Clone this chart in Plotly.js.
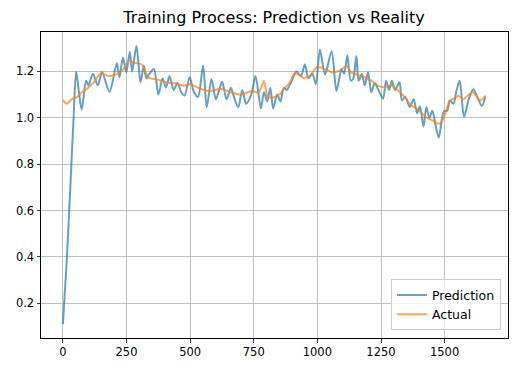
<!DOCTYPE html>
<html>
<head>
<meta charset="utf-8">
<script src="https://cdn.plot.ly/plotly-3.0.1.min.js"></script>
<style>html,body{margin:0;padding:0;background:#fff;}#chart{width:516px;height:374px;}</style>
</head>
<body>
<div id="chart"></div>
<script>
// Prediction series (step index, value)
const predX = [0,15,30,42,52,62,74,91,100,118,137,154,183,212,222,236,249,263,272,289,305,318,328,340,358,375,392,405,419,435,450,465,478,498,515,531,551,565,584,601,614,626,643,660,672,689,705,720,740,757,778,790,803,815,826,842,855,868,880,895,918,935,951,965,980,994,1010,1030,1056,1075,1095,1105,1118,1131,1141,1153,1162,1175,1186,1199,1212,1225,1240,1258,1270,1282,1293,1305,1323,1332,1345,1363,1378,1392,1403,1417,1428,1440,1452,1464,1477,1497,1510,1520,1535,1545,1559,1576,1595,1613,1628,1646,1660];
const predY = [0.11,0.38,0.72,1.0,1.2,1.12,1.035,1.16,1.14,1.19,1.14,1.196,1.112,1.235,1.175,1.26,1.196,1.285,1.20,1.31,1.153,1.224,1.17,1.19,1.21,1.10,1.17,1.13,1.18,1.12,1.15,1.11,1.096,1.175,1.11,1.09,1.226,1.045,1.166,1.08,1.12,1.155,1.08,1.13,1.09,1.045,1.12,1.06,1.10,1.18,1.04,1.11,1.07,1.13,1.04,1.10,1.07,1.13,1.12,1.15,1.20,1.18,1.23,1.17,1.19,1.145,1.294,1.187,1.287,1.116,1.21,1.19,1.27,1.16,1.17,1.267,1.16,1.19,1.14,1.196,1.11,1.15,1.12,1.082,1.16,1.12,1.16,1.12,1.153,1.075,1.09,1.047,1.08,1.02,1.05,0.962,1.047,1.0,1.03,0.97,0.915,1.028,1.03,1.075,1.06,1.11,1.16,1.004,1.08,1.123,1.09,1.052,1.09];

// Actual series
const actX = [0,15,34,54,74,93,120,152,178,211,238,257,283,310,336,369,408,440,473,500,540,580,620,660,700,740,770,790,805,830,850,870,890,910,930,945,970,1000,1030,1060,1090,1115,1133,1160,1186,1212,1238,1264,1291,1317,1343,1369,1390,1410,1430,1450,1465,1482,1500,1521,1540,1554,1575,1595,1613,1639,1661];
const actY = [1.077,1.06,1.08,1.088,1.11,1.123,1.152,1.194,1.18,1.187,1.209,1.244,1.237,1.23,1.173,1.166,1.152,1.15,1.138,1.145,1.125,1.115,1.125,1.11,1.10,1.115,1.11,1.16,1.09,1.088,1.10,1.125,1.15,1.19,1.185,1.172,1.18,1.22,1.21,1.195,1.205,1.223,1.196,1.184,1.174,1.16,1.139,1.132,1.139,1.118,1.09,1.054,1.04,1.02,1.0,0.99,0.98,0.974,1.01,1.074,1.085,1.095,1.08,1.10,1.109,1.074,1.095];

const xTicks = [0,250,500,750,1000,1250,1500];
const yTicks = [0.2,0.4,0.6,0.8,1.0,1.2];

const traces = [
  {x: predX, y: predY, name: 'Prediction', mode: 'lines', type: 'scatter',
   line: {color: 'rgba(31,119,180,0.7)', width: 2, shape: 'spline', smoothing: 0.8}},
  {x: actX, y: actY, name: 'Actual', mode: 'lines', type: 'scatter',
   line: {color: 'rgba(255,127,14,0.7)', width: 2, shape: 'spline', smoothing: 0.6}}
];

const axisCommon = {
  showgrid: true, gridcolor: '#b0b0b0', gridwidth: 0.8,
  showline: true, linecolor: '#000', linewidth: 1, mirror: true,
  ticks: 'outside', ticklen: 3.5, tickcolor: '#000', tickwidth: 0.8,
  zeroline: false, tickfont: {family: 'DejaVu Sans', size: 11.5, color: '#000'}
};

const layout = {
  width: 516, height: 374,
  margin: {l: 41, r: 8, t: 32, b: 36},
  paper_bgcolor: '#fff', plot_bgcolor: '#fff',
  title: {text: 'Training Process: Prediction vs Reality', x: 0.531, xanchor: 'center', y: 0.953, yanchor: 'middle',
          font: {family: 'DejaVu Sans', size: 16, color: '#000'}},
  xaxis: Object.assign({}, axisCommon, {range: [-86, 1749], tickvals: xTicks, ticktext: xTicks.map(String)}),
  yaxis: Object.assign({}, axisCommon, {range: [0.05, 1.37], tickvals: yTicks, ticktext: yTicks.map(v => v.toFixed(1))}),
  showlegend: true,
  legend: {x: 0.985, y: 0.025, xanchor: 'right', yanchor: 'bottom', bgcolor: 'rgba(255,255,255,0.8)',
           bordercolor: '#cccccc', borderwidth: 1, font: {family: 'DejaVu Sans', size: 12.5, color: '#000'},
           tracegroupgap: 2}
};

Plotly.newPlot('chart', traces, layout, {displayModeBar: false, staticPlot: true});
</script>
</body>
</html>
